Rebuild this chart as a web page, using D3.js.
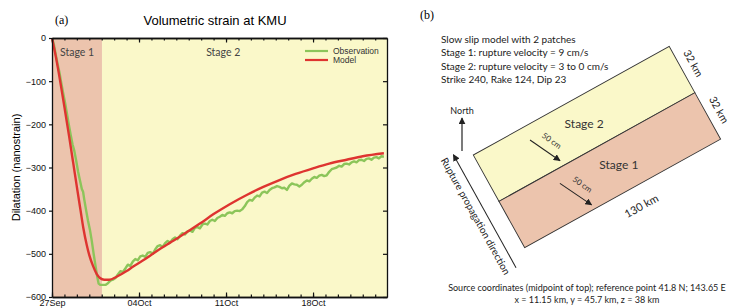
<!DOCTYPE html>
<html>
<head>
<meta charset="utf-8">
<script src="https://cdn.jsdelivr.net/npm/d3@7"></script>
<style>
  body { margin: 0; background: #fff; }
  svg { display: block; }
</style>
</head>
<body>
<svg id="fig" width="729" height="308"></svg>
<script>
// ---------- panel (a) data ----------
var stageNames = ["Stage 1", "Stage 2"]
var stageStart = [0, 4.02]          // days after 27 Sep
var stageEnd = [4.02, 26.95]

var yTicks = [0, -100, -200, -300, -400, -500, -600]
var weekTicks = [0, 7, 14, 21]
var weekLabels = ["27Sep", "04Oct", "11Oct", "18Oct"]

var seriesNames = ["Observation", "Model"]

// observed dilatation [day, nanostrain]
var observation = [
  [0,0],[0.15,-15],[0.3,-38],[0.45,-60],[0.6,-80],[0.75,-105],[0.9,-128],[1.05,-150],
  [1.2,-175],[1.35,-200],[1.5,-224],[1.65,-246],[1.8,-262],[1.95,-285],[2.1,-310],
  [2.25,-330],[2.4,-350],[2.5,-356],[2.6,-375],[2.75,-400],[2.9,-424],[3.05,-444],
  [3.2,-470],[3.35,-500],[3.5,-528],[3.65,-555],[3.75,-569],[3.9,-572],[4.1,-572],
  [4.3,-572],[4.5,-568],[4.7,-562],[4.9,-560],[5.1,-556],[5.3,-548],[5.5,-540],
  [5.7,-542],[5.9,-534],[6.1,-525],[6.3,-528],[6.5,-518],[6.7,-512],[6.9,-515],
  [7.1,-506],[7.3,-504],[7.5,-507],[7.7,-498],[7.9,-496],[8.1,-500],[8.3,-490],
  [8.5,-482],[8.7,-480],[8.9,-484],[9.1,-475],[9.3,-470],[9.5,-474],[9.7,-466],
  [9.9,-462],[10.1,-466],[10.3,-458],[10.5,-452],[10.7,-455],[10.9,-448],[11.1,-446],
  [11.3,-449],[11.5,-440],[11.7,-438],[11.9,-441],[12.1,-432],[12.3,-430],[12.5,-432],
  [12.7,-424],[12.9,-421],[13.1,-424],[13.3,-417],[13.5,-414],[13.7,-410],[13.9,-412],
  [14.1,-406],[14.3,-404],[14.5,-406],[14.7,-401],[14.9,-400],[15.1,-401],[15.3,-397],
  [15.5,-390],[15.7,-380],[15.9,-375],[16.1,-377],[16.3,-370],[16.5,-365],[16.7,-367],
  [16.9,-358],[17.1,-356],[17.3,-359],[17.5,-352],[17.7,-348],[17.9,-346],[18.1,-343],
  [18.3,-345],[18.5,-348],[18.7,-347],[18.9,-352],[19.1,-342],[19.3,-337],[19.5,-339],
  [19.7,-340],[19.9,-344],[20.1,-340],[20.3,-334],[20.5,-330],[20.7,-332],[20.9,-326],
  [21.1,-322],[21.3,-324],[21.5,-319],[21.7,-317],[21.9,-320],[22.1,-318],[22.3,-310],
  [22.5,-304],[22.7,-302],[22.9,-300],[23.1,-296],[23.3,-298],[23.5,-292],[23.7,-291],
  [23.9,-293],[24.1,-288],[24.3,-286],[24.5,-288],[24.7,-283],[24.9,-282],[25.1,-285],
  [25.3,-280],[25.5,-279],[25.7,-282],[25.9,-277],[26.1,-276],[26.3,-279],[26.5,-274],
  [26.7,-275]
]

// modelled dilatation [day, nanostrain]
var model = [
  [0,0],[0.3,-42],[0.64,-97],[1.0,-160],[1.4,-232],[1.71,-290],[2.0,-345],[2.3,-400],
  [2.52,-440],[2.8,-480],[3.0,-503],[3.3,-528],[3.6,-547],[3.86,-556],[4.2,-560],
  [4.6,-560],[5.2,-553],[6.0,-540],[6.5,-530],[7.5,-512],[8.5,-492],[9.5,-474],
  [10.3,-460],[11.9,-430],[13,-408],[14.3,-385],[15.7,-363],[17,-345],[18.3,-329],
  [19.6,-315],[21,-302],[22.3,-291],[23.7,-282],[25,-274],[26.7,-267]
]

// ---------- panel (b) data ----------
var faultLength = 130          // km along strike
var patchWidth = 32            // km down dip, per patch
var patchNames = ["Stage 2", "Stage 1"]
var patchTop = [0, 32]
var slipStart = [[33, 8.7], [36, 40.3]]     // [km along, km down dip]
var slipEnd = [[42.4, 28.4], [46, 61]]
var slipLabel = "50 cm"
var infoLines = [
  "Slow slip model with 2 patches",
  "Stage 1: rupture velocity = 9 cm/s",
  "Stage 2: rupture velocity = 3 to 0 cm/s",
  "Strike 240, Rake 124, Dip 23"
]
var sourceLines = [
  "Source coordinates (midpoint of top); reference point 41.8 N; 143.65 E",
  "x = 11.15 km, y = 45.7 km, z = 38 km"
]

var pink = "#ecc4ad", cream = "#faf8c9"
var stageColor = d3.scaleOrdinal().domain(["Stage 1", "Stage 2"]).range([pink, cream])
var lineColor = d3.scaleOrdinal().domain(seriesNames).range(["#8cc55a", "#de3430"])

var svg = d3.select("#fig")
var sans = "'Liberation Sans', Arial, sans-serif"
var soft = "Lato, 'Open Sans', sans-serif"

// ================= panel (a) =================
var plotL = 52, plotR = 387, plotT = 38, plotB = 297

var x = d3.scaleLinear().domain([0, 26.95]).range([plotL, plotR])
var y = d3.scaleLinear().domain([-600, 0]).range([plotB, plotT])

svg.selectAll("rect.stage")
    .data(stageNames).enter()
    .append("rect")
        .attr("class", "stage")
        .attr("x", function(d, i){ return x(stageStart[i]) })
        .attr("y", plotT)
        .attr("width", function(d, i){ return x(stageEnd[i]) - x(stageStart[i]) })
        .attr("height", plotB - plotT)
        .style("fill", function(d){ return stageColor(d) })

svg.selectAll("text.stagelabel")
    .data(stageNames).enter()
    .append("text")
        .attr("class", "stagelabel")
        .attr("x", function(d, i){ return i == 0 ? x(stageStart[i]) + 8 : x(12.4) })
        .attr("y", 56)
        .attr("font-family", soft)
        .attr("font-size", 10.5)
        .style("fill", "#444")
        .text(function(d){ return d })

var line = d3.line()
    .x(function(d){ return x(d[0]) })
    .y(function(d){ return y(d[1]) })

svg.append("path")
    .datum(observation)
    .attr("d", line.curve(d3.curveLinear))
    .style("fill", "none")
    .style("stroke", lineColor("Observation"))
    .style("stroke-width", 2.4)
    .style("stroke-linejoin", "round")

svg.append("path")
    .datum(model)
    .attr("d", line.curve(d3.curveMonotoneX))
    .style("fill", "none")
    .style("stroke", lineColor("Model"))
    .style("stroke-width", 2.4)

// axes box
function styleAxis(g) {
  g.select(".domain").attr("stroke", "#111").attr("stroke-width", 1.3)
  g.selectAll(".tick line").attr("stroke", "#111").attr("stroke-width", 1.2)
  g.selectAll(".tick text").attr("font-family", sans).attr("font-size", 9).attr("fill", "#111")
}
var days = d3.range(0, 27)

svg.append("g").attr("transform", "translate(0," + plotB + ")")
    .call(d3.axisBottom(x).tickValues(days).tickSize(-2.5).tickFormat("").tickSizeOuter(0))
    .call(styleAxis)
svg.append("g").attr("transform", "translate(0," + plotB + ")")
    .call(d3.axisBottom(x).tickValues(weekTicks).tickSize(-4.5).tickSizeOuter(0).tickPadding(3)
          .tickFormat(function(d, i){ return weekLabels[i] }))
    .call(styleAxis)
svg.append("g").attr("transform", "translate(0," + plotT + ")")
    .call(d3.axisTop(x).tickValues(days).tickSize(-2.5).tickFormat("").tickSizeOuter(0))
    .call(styleAxis)
svg.append("g").attr("transform", "translate(0," + plotT + ")")
    .call(d3.axisTop(x).tickValues(weekTicks).tickSize(-4.5).tickFormat("").tickSizeOuter(0))
    .call(styleAxis)
svg.append("g").attr("transform", "translate(" + plotL + ",0)")
    .call(d3.axisLeft(y).tickValues(yTicks).tickSize(3).tickPadding(3).tickSizeOuter(0))
    .call(styleAxis)
svg.append("g").attr("transform", "translate(" + plotR + ",0)")
    .call(d3.axisRight(y).tickValues(yTicks).tickSize(-4).tickFormat("").tickSizeOuter(0))
    .call(styleAxis)

svg.append("text")
    .attr("transform", "translate(20," + ((plotT + plotB) / 2) + ") rotate(-90)")
    .attr("text-anchor", "middle")
    .attr("font-family", sans)
    .attr("font-size", 11)
    .text("Dilatation (nanostrain)")

svg.append("text")
    .attr("x", 215).attr("y", 25)
    .attr("text-anchor", "middle")
    .attr("font-family", sans)
    .attr("font-size", 13)
    .text("Volumetric strain at KMU")

svg.append("text")
    .attr("x", 55).attr("y", 24)
    .attr("font-family", "'Liberation Serif', serif")
    .attr("font-size", 12)
    .text("(a)")

// legend
var legend = svg.selectAll("g.legend")
    .data(seriesNames).enter()
    .append("g")
        .attr("class", "legend")
        .attr("transform", function(d, i){ return "translate(305," + (51 + i * 9) + ")" })
legend.append("line")
    .attr("x1", 0).attr("x2", 23)
    .style("stroke", function(d){ return lineColor(d) })
    .style("stroke-width", 2.2)
legend.append("text")
    .attr("x", 28).attr("y", 3)
    .attr("font-family", sans)
    .attr("font-size", 8.5)
    .style("fill", "#333")
    .text(function(d){ return d })

// ================= panel (b) =================
svg.append("defs").append("marker")
    .attr("id", "head")
    .attr("viewBox", "0 0 10 10")
    .attr("refX", 9).attr("refY", 5)
    .attr("markerWidth", 7).attr("markerHeight", 7)
    .attr("markerUnits", "userSpaceOnUse")
    .attr("orient", "auto")
  .append("path")
    .attr("d", "M0,0 L10,5 L0,10 z")
    .style("fill", "#222")

svg.append("text")
    .attr("x", 420).attr("y", 19)
    .attr("font-family", "'Liberation Serif', serif")
    .attr("font-size", 12)
    .text("(b)")

svg.selectAll("text.info")
    .data(infoLines).enter()
    .append("text")
        .attr("class", "info")
        .attr("x", 441)
        .attr("y", function(d, i){ return 43 + i * 13.3 })
        .attr("font-family", soft)
        .attr("font-size", 10)
        .style("fill", "#222")
        .text(function(d){ return d })

svg.selectAll("text.source")
    .data(sourceLines).enter()
    .append("text")
        .attr("class", "source")
        .attr("x", 587)
        .attr("y", function(d, i){ return 291 + i * 11.5 })
        .attr("text-anchor", "middle")
        .attr("font-family", soft)
        .attr("font-size", 9)
        .style("fill", "#222")
        .text(function(d){ return d })

// fault plane, drawn in its own along-strike / down-dip frame
var kmX = d3.scaleLinear().domain([0, faultLength]).range([0, 224])
var kmY = d3.scaleLinear().domain([0, 2 * patchWidth]).range([0, 106])
var fault = svg.append("g").attr("transform", "translate(473.3,155) rotate(-29)")

fault.selectAll("rect.patch")
    .data(patchNames).enter()
    .append("rect")
        .attr("class", "patch")
        .attr("x", kmX(0))
        .attr("y", function(d, i){ return kmY(patchTop[i]) })
        .attr("width", kmX(faultLength) - kmX(0))
        .attr("height", kmY(patchWidth) - kmY(0))
        .style("fill", function(d){ return stageColor(d) })
        .style("stroke", "#333")
        .style("stroke-width", 0.9)

fault.selectAll("text.patchlabel")
    .data(patchNames).enter()
    .append("text")
        .attr("class", "patchlabel")
        .attr("transform", function(d, i){
            return "translate(" + kmX(i == 0 ? 65 : 71) + "," + kmY(patchTop[i] + patchWidth / 2) + ") rotate(29)" })
        .attr("text-anchor", "middle")
        .attr("dy", "0.35em")
        .attr("font-family", soft)
        .attr("font-size", 12)
        .style("fill", "#333")
        .text(function(d){ return d })

fault.selectAll("line.slip")
    .data(slipStart).enter()
    .append("line")
        .attr("class", "slip")
        .attr("x1", function(d){ return kmX(d[0]) })
        .attr("y1", function(d){ return kmY(d[1]) })
        .attr("x2", function(d, i){ return kmX(slipEnd[i][0]) })
        .attr("y2", function(d, i){ return kmY(slipEnd[i][1]) })
        .style("stroke", "#222")
        .style("stroke-width", 1)
        .attr("marker-end", "url(#head)")

fault.selectAll("text.slip")
    .data(slipStart).enter()
    .append("text")
        .attr("class", "slip")
        .attr("transform", function(d, i){
            var mx = (kmX(d[0]) + kmX(slipEnd[i][0])) / 2, my = (kmY(d[1]) + kmY(slipEnd[i][1])) / 2
            return "translate(" + (mx + 8) + "," + (my - 4) + ") rotate(64)" })
        .attr("text-anchor", "middle")
        .attr("font-family", soft)
        .attr("font-size", 8)
        .style("fill", "#333")
        .text(slipLabel)

fault.append("text")
    .attr("x", kmX(71)).attr("y", kmY(2 * patchWidth) + 24)
    .attr("text-anchor", "middle")
    .attr("font-family", soft)
    .attr("font-size", 11)
    .style("fill", "#222")
    .text(faultLength + " km")

fault.selectAll("text.width")
    .data(patchTop).enter()
    .append("text")
        .attr("class", "width")
        .attr("transform", function(d){
            return "translate(" + (kmX(faultLength) + 9) + "," + kmY(d + patchWidth / 2) + ") rotate(90)" })
        .attr("text-anchor", "middle")
        .attr("font-family", soft)
        .attr("font-size", 10.5)
        .style("fill", "#222")
        .text(patchWidth + " km")

// rupture propagation: up dip, just outside the left edge
fault.append("line")
    .attr("x1", kmX(-10)).attr("y1", kmY(72))
    .attr("x2", kmX(-10)).attr("y2", kmY(-6))
    .style("stroke", "#222")
    .style("stroke-width", 1)
    .attr("marker-end", "url(#head)")

fault.append("text")
    .attr("transform", "translate(" + (kmX(-10) - 14) + "," + kmY(33) + ") rotate(90)")
    .attr("text-anchor", "middle")
    .attr("font-family", soft)
    .attr("font-size", 10)
    .style("fill", "#222")
    .text("Rupture propagation direction")

// north arrow
svg.append("line")
    .attr("x1", 462).attr("y1", 151)
    .attr("x2", 462).attr("y2", 118)
    .style("stroke", "#222")
    .style("stroke-width", 1.2)
    .attr("marker-end", "url(#head)")
svg.append("text")
    .attr("x", 462).attr("y", 114)
    .attr("text-anchor", "middle")
    .attr("font-family", soft)
    .attr("font-size", 9)
    .style("fill", "#222")
    .text("North")
</script>
</body>
</html>
